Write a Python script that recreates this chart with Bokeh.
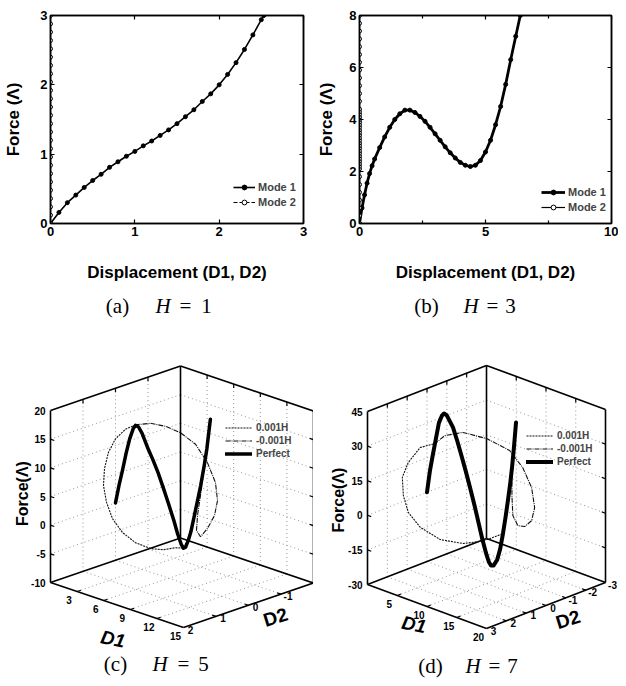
import math
import numpy as np
from bokeh.plotting import figure
from bokeh.models import Legend, LegendItem, LinearAxis, FixedTicker, Range1d
from bokeh.layouts import column, row
from bokeh.embed import file_html
from bokeh.resources import INLINE
from bokeh.core.properties import value

SANS = "Liberation Sans"
SERIF = "Liberation Serif"

# ---------------- (a) H = 1 ----------------
a_mode1_disp = [0.0, 0.1, 0.2, 0.3, 0.4, 0.5, 0.6, 0.7, 0.8, 0.9, 1.0, 1.1, 1.2, 1.3,
                1.4, 1.5, 1.6, 1.7, 1.8, 1.9, 2.0, 2.1, 2.2, 2.3, 2.4, 2.5, 2.53]
a_mode1_force = [0.0, 0.16, 0.30, 0.41, 0.52, 0.62, 0.71, 0.81, 0.89, 0.97, 1.04, 1.12, 1.19, 1.27,
                 1.35, 1.44, 1.54, 1.64, 1.76, 1.87, 2.0, 2.15, 2.32, 2.51, 2.72, 2.94, 3.0]
a_mode2_force = [0.0, 0.12, 0.24, 0.36, 0.48, 0.60, 0.72, 0.84, 0.96, 1.08, 1.20, 1.32, 1.44,
                 1.56, 1.68, 1.80, 1.92, 2.04, 2.16, 2.28, 2.40, 2.52, 2.64, 2.76, 2.88, 3.00]
a_mode2_disp = [0.0] * len(a_mode2_force)
a_xticks = [0, 1, 2, 3]
a_yticks = [0, 1, 2, 3]

# ---------------- (b) H = 3 ----------------
b_mode1_disp = [0.0, 0.1, 0.2, 0.3, 0.4, 0.5, 0.6, 0.8, 1.0, 1.2, 1.4, 1.6, 1.8, 2.0, 2.2, 2.4,
                2.6, 2.8, 3.0, 3.2, 3.4, 3.6, 3.8, 4.0, 4.2, 4.4, 4.6, 4.8, 5.0, 5.2, 5.4, 5.6,
                5.8, 6.0, 6.2, 6.38]
b_mode1_force = [0.0, 0.6, 1.1, 1.55, 1.92, 2.22, 2.48, 2.92, 3.33, 3.70, 4.0, 4.22, 4.36, 4.36,
                 4.27, 4.12, 3.93, 3.70, 3.45, 3.2, 2.95, 2.72, 2.52, 2.35, 2.24, 2.19, 2.24,
                 2.42, 2.75, 3.2, 3.8, 4.5, 5.35, 6.3, 7.2, 8.0]
b_mode2_force = [0.0, 0.3, 0.6, 0.9, 1.2, 1.5, 1.8, 2.1, 2.2, 2.3, 2.4, 2.5, 2.6, 2.7, 2.8, 2.9,
                 3.0, 3.1, 3.2, 3.3, 3.4, 3.5, 3.6, 3.7, 3.8, 3.9, 4.0, 4.1, 4.2, 4.3, 4.4, 4.7,
                 5.0, 5.3, 5.6, 5.9, 6.2, 6.5, 6.8, 7.1, 7.4, 7.7, 8.0]
b_mode2_disp = [0.0] * len(b_mode2_force)
b_xticks = [0, 5, 10]
b_xminor = [2.5, 7.5]
b_yticks = [0, 2, 4, 6, 8]

# ---------------- (c) H = 5 ----------------
c_perf_d1 = [0.0, 0.4, 0.8, 1.2, 1.6, 2.0, 2.25, 2.6, 3.0, 3.6, 4.2, 4.8, 5.4, 6.0, 6.6, 7.0,
             7.4, 7.67, 7.9, 8.2, 8.5, 8.9, 9.3, 9.6, 10.0, 10.3, 10.7]
c_perf_f = [0.0, 3.3, 6.2, 9.3, 12.0, 14.0, 14.7, 14.6, 13.7, 11.6, 9.8, 7.8, 5.4, 2.9, 0.3, -1.7,
            -3.3, -3.9, -3.6, -2.3, -0.6, 2.5, 5.6, 8.0, 11.7, 14.8, 20.2]
c_perf_d2 = [0.0] * len(c_perf_d1)
c_pos_d1 = [0.0, 0.8, 1.35, 1.92, 2.26, 2.23, 2.20, 2.14, 2.24, 2.31, 3.02, 3.88, 4.82, 5.74,
            6.70, 7.25, 7.50, 7.67, 8.46, 9.58, 10.15, 10.7]
c_pos_d2 = [0.0, 0.0, 0.0, 0.0, 0.0, 0.3, 0.6, 0.8, 0.95, 1.0, 1.1, 1.15, 1.1, 0.95, 0.75, 0.5,
            0.2, 0.0, 0.0, 0.0, 0.0, 0.0]
c_pos_f = [0.0, 6.2, 10.4, 13.8, 14.8, 14.6, 13.5, 11.5, 9.0, 6.2, 3.8, 1.5, -0.5, -2.1, -3.0,
           -3.4, -3.5, -3.9, -0.9, 7.7, 13.2, 20.2]
c_neg_d1 = [0.0, 0.8, 1.35, 1.92, 2.26, 2.85, 3.44, 4.22, 5.36, 6.34, 7.06, 7.29, 7.32, 7.26,
            7.39, 7.85, 8.70, 9.40, 10.15, 10.7]
c_neg_d2 = [0.0, 0.0, 0.0, 0.0, 0.0, -0.3, -0.6, -0.85, -1.0, -1.1, -1.15, -1.15, -1.05, -0.85,
            -0.6, -0.35, -0.15, -0.05, 0.0, 0.0]
c_neg_f = [0.0, 6.2, 10.4, 13.8, 14.8, 14.8, 14.0, 12.8, 11.1, 8.2, 5.0, 2.0, -0.4, -2.3, -3.2,
           -1.4, 2.1, 6.1, 13.2, 20.2]
c_d1_ticks = [3, 6, 9, 12, 15]
c_d2_ticks = [2, 1, 0, -1]
c_f_ticks = [-10, -5, 0, 5, 10, 15, 20]

# ---------------- (d) H = 7 ----------------
d_perf_d1 = [0.0, 0.5, 1.0, 1.34, 2.0, 2.5, 2.86, 3.3, 4.37, 5.1, 5.88, 6.5, 7.23, 8.0, 8.57,
             9.3, 10.0, 10.4, 10.76, 11.2, 11.8, 12.3, 12.77, 13.2, 13.6, 14.0, 14.29, 14.6, 14.96]
d_perf_f = [0.0, 9.9, 17.5, 22.4, 32.0, 35.6, 36.9, 36.6, 32.3, 27.0, 20.7, 15.5, 9.0, 1.8, -4.0,
            -11.5, -17.5, -20.3, -21.5, -21.0, -18.0, -12.8, -5.7, 1.8, 9.4, 17.5, 24.4, 33.0, 44.5]
d_perf_d2 = [0.0] * len(d_perf_d1)
d_pos_d1 = [0.0, 0.5, 1.34, 2.18, 2.18, 2.52, 3.36, 4.54, 6.22, 8.57, 10.76, 11.6, 11.6, 12.77,
            13.6, 14.29, 14.96]
d_pos_d2 = [0.0, 0.0, 0.0, 1.0, 1.6, 2.0, 2.2, 2.3, 2.2, 1.9, 1.4, 0.8, 0.3, 0.0, 0.0, 0.0, 0.0]
d_pos_f = [0.0, 9.9, 22.4, 24.8, 20.3, 15.5, 9.1, 3.2, -2.0, -6.0, -7.3, -7.6, -8.0, -5.7, 9.4,
           24.4, 44.5]
d_neg_d1 = [0.0, 0.5, 1.34, 1.34, 2.69, 5.04, 7.56, 9.08, 10.25, 10.76, 10.92, 11.09, 11.26,
            11.76, 12.94, 13.95, 14.29, 14.96]
d_neg_d2 = [0.0, 0.0, 0.0, -0.5, -1.0, -1.5, -1.9, -2.1, -2.2, -2.2, -2.0, -1.6, -1.2, -0.8,
            -0.4, -0.1, 0.0, 0.0]
d_neg_f = [0.0, 9.9, 22.4, 24.2, 25.2, 23.1, 19.0, 12.4, 4.5, -3.7, -8.5, -9.6, -7.7, -1.5, 9.6,
           20.2, 24.4, 44.5]
d_d1_ticks = [5, 10, 15, 20]
d_d2_ticks = [3, 2, 1, 0, -1, -2, -3]
d_f_ticks = [-30, -15, 0, 15, 30, 45]

legend_labels_2d = ["Mode 1", "Mode 2"]
legend_labels_3d = ["0.001H", "-0.001H", "Perfect"]

BOTTOM_H = 388   # bottom-row figures also carry the (a)/(b) captions at their top


def style_axis(ax, ticks, minor=None, labels=True):
    ax.ticker = FixedTicker(ticks=ticks, minor_ticks=minor or [])
    ax.major_tick_in = 4
    ax.major_tick_out = 0
    ax.minor_tick_in = 3 if minor else 0
    ax.minor_tick_out = 0
    ax.axis_line_color = "black"
    ax.axis_line_width = 1.5
    ax.major_tick_line_width = 1.2
    ax.minor_tick_line_width = 1.2
    ax.major_label_text_font = SANS
    ax.major_label_text_font_style = "bold"
    ax.major_label_text_color = "black"
    if labels:
        ax.major_label_standoff = 3
        ax.major_label_text_font_size = "13px"
    else:
        ax.major_label_standoff = 0
        ax.major_label_text_font_size = "2px"
        ax.major_label_overrides = {t: "" for t in ticks}


def add_caption(p, letter, num, xs, cy):
    common = dict(text_font=value(SERIF), text_font_size="21px", text_baseline="middle",
                  text_color="black")
    p.text(x=[xs[0]], y=[cy], text=[letter], text_align="center", **common)
    p.text(x=[xs[1]], y=[cy], text=["H"], text_align="left", text_font_style="italic", **common)
    p.text(x=[xs[2]], y=[cy], text=["="], text_align="center", **common)
    p.text(x=[xs[3]], y=[cy], text=[num], text_align="center", **common)


def make_2d(W, x_end, y_end, xticks, yticks, xminor, m1x, m1y, m2x, m2y, m2dash, borders,
            ylab_standoff, legend_loc, glyph_w, m1_width):
    bl, br, bt, bb = borders
    Hh = 290
    p = figure(width=W, height=Hh, x_range=Range1d(0, x_end), y_range=Range1d(0, y_end),
               output_backend="svg", toolbar_location=None,
               min_border_left=bl, min_border_right=br, min_border_top=bt, min_border_bottom=bb)
    p.grid.visible = False
    p.outline_line_color = "black"
    p.outline_line_width = 1.5
    style_axis(p.xaxis[0], xticks, xminor)
    style_axis(p.yaxis[0], yticks)
    p.xaxis.axis_label = "Displacement (D1, D2)"
    p.yaxis.axis_label = "Force (\u039b)"
    for ax in (p.xaxis[0], p.yaxis[0]):
        ax.axis_label_text_font = SANS
        ax.axis_label_text_font_style = "bold"
        ax.axis_label_text_font_size = "17px"
        ax.axis_label_text_color = "black"
    p.xaxis.axis_label_standoff = 24
    p.yaxis.axis_label_standoff = ylab_standoff
    top = LinearAxis()
    style_axis(top, xticks, xminor, labels=False)
    right = LinearAxis()
    style_axis(right, yticks, labels=False)
    p.add_layout(top, "above")
    p.add_layout(right, "right")

    l1 = p.line(m1x, m1y, line_color="black", line_width=m1_width)
    s1 = p.scatter(m1x, m1y, size=4, marker="circle", fill_color="black", line_color="black")
    l2 = p.line(m2x, m2y, line_color="black", line_width=1.2, line_dash=m2dash)
    s2 = p.scatter(m2x, m2y, size=4, marker="circle", fill_color="white", line_color="black",
                   line_width=1)
    leg = Legend(items=[LegendItem(label=legend_labels_2d[0], renderers=[l1, s1]),
                        LegendItem(label=legend_labels_2d[1], renderers=[l2, s2])],
                 location=legend_loc, glyph_width=glyph_w, glyph_height=12, label_height=12,
                 spacing=3, padding=0, margin=0, border_line_color=None,
                 background_fill_alpha=0, label_text_font=SANS, label_text_font_style="bold",
                 label_text_font_size="11px", label_standoff=3)
    p.add_layout(leg)
    return p


def make_3d(W, d1_max, d2_hi, d2_lo, f_lo, f_hi, d1_ticks, d2_ticks, f_ticks,
            perf, pos, neg, origin, v1, v2, v3, perf_width, legend_loc,
            force_off, d1_off, d2_off, caption, cap_xs, cap_y, top_caption, top_xs, top_y):
    Hh = BOTTOM_H
    p = figure(width=W, height=Hh, x_range=Range1d(0, W), y_range=Range1d(0, Hh),
               output_backend="svg", toolbar_location=None, min_border=0,
               x_axis_location=None, y_axis_location=None, outline_line_color=None)
    p.grid.visible = False

    def P(d1, d2, f):
        d1 = np.asarray(d1, float)
        d2 = np.asarray(d2, float)
        f = np.asarray(f, float)
        a = d1 / d1_max
        b = (d2_hi - d2) / (d2_hi - d2_lo)
        c = (f - f_lo) / (f_hi - f_lo)
        return (origin[0] + a * v1[0] + b * v2[0] + c * v3[0],
                origin[1] + a * v1[1] + b * v2[1] + c * v3[1])

    def segs(pairs):
        x0, y0, x1, y1 = [], [], [], []
        for a, b in pairs:
            xa, ya = P(*a)
            xb, yb = P(*b)
            x0.append(float(xa)); y0.append(float(ya)); x1.append(float(xb)); y1.append(float(yb))
        return x0, y0, x1, y1

    d1_in = [t for t in d1_ticks if 0 < t < d1_max]
    d2_in = [t for t in d2_ticks if d2_lo < t < d2_hi]
    f_in = [t for t in f_ticks if f_lo < t < f_hi]

    # dotted grid on the three back planes
    grid = []
    for t in d1_in:
        grid.append(((t, d2_hi, f_lo), (t, d2_lo, f_lo)))
        grid.append(((t, d2_lo, f_lo), (t, d2_lo, f_hi)))
    for t in d2_in:
        grid.append(((0, t, f_lo), (d1_max, t, f_lo)))
        grid.append(((0, t, f_lo), (0, t, f_hi)))
    for t in f_in:
        grid.append(((0, d2_hi, t), (0, d2_lo, t)))
        grid.append(((0, d2_lo, t), (d1_max, d2_lo, t)))
    gx0, gy0, gx1, gy1 = segs(grid)
    p.segment(gx0, gy0, gx1, gy1, line_color="#8a8a8a", line_width=0.9, line_dash="1 3")

    # box edges
    L0, F0, R0, B0 = (0, d2_hi, f_lo), (d1_max, d2_hi, f_lo), (d1_max, d2_lo, f_lo), (0, d2_lo, f_lo)
    L1, R1, B1 = (0, d2_hi, f_hi), (d1_max, d2_lo, f_hi), (0, d2_lo, f_hi)
    edges = [(L0, L1), (B0, B1), (R0, R1), (L1, B1), (B1, R1), (L0, F0), (F0, R0), (L0, B0), (B0, R0)]
    ex0, ey0, ex1, ey1 = segs(edges)
    p.segment(ex0, ey0, ex1, ey1, line_color="black", line_width=1.6)

    # ticks
    n1 = math.hypot(*v1)
    n2 = math.hypot(*v2)
    u1 = (v1[0] / n1, v1[1] / n1)
    u2 = (v2[0] / n2, v2[1] / n2)
    tl = 4.0
    tx0, ty0, tx1, ty1 = [], [], [], []

    def tick(base, d):
        bx, by = P(*base)
        tx0.append(float(bx)); ty0.append(float(by))
        tx1.append(float(bx) + d[0] * tl); ty1.append(float(by) + d[1] * tl)

    for t in f_in:
        tick((0, d2_hi, t), u1)
        tick((d1_max, d2_lo, t), (-u1[0], -u1[1]))
    for t in d2_in:
        tick((0, t, f_hi), (0, -1))
        tick((d1_max, t, f_lo), (-u1[0], -u1[1]))
    for t in d1_in:
        tick((t, d2_lo, f_hi), (0, -1))
        tick((t, d2_hi, f_lo), u2)
    p.segment(tx0, ty0, tx1, ty1, line_color="black", line_width=1.2)

    # curves
    rp = p.line(*P(*pos), line_color="#111111", line_width=1.1, line_dash="2 1")
    rn = p.line(*P(*neg), line_color="#111111", line_width=1.1, line_dash="5 1 1 1")
    rf = p.line(*P(*perf), line_color="black", line_width=perf_width,
                line_join="round", line_cap="round")

    # tick labels
    fx, fy = P([0] * len(f_ticks), [d2_hi] * len(f_ticks), f_ticks)
    p.text(x=list(fx - 5), y=list(fy), text=[str(t) for t in f_ticks], text_font=value(SANS),
           text_font_style="bold", text_font_size="10px", text_align="right",
           text_baseline="middle", text_color="black")
    ax_, ay_ = P(d1_ticks, [d2_hi] * len(d1_ticks), [f_lo] * len(d1_ticks))
    p.text(x=list(ax_ - 8), y=list(ay_ - 8), text=[str(t) for t in d1_ticks],
           text_font=value(SANS), text_font_style="bold", text_font_size="10px",
           text_align="center", text_baseline="middle", text_color="black")
    bx_, by_ = P([d1_max] * len(d2_ticks), d2_ticks, [f_lo] * len(d2_ticks))
    p.text(x=list(bx_ + 7), y=list(by_ - 2), text=[str(t) for t in d2_ticks],
           text_font=value(SANS), text_font_style="bold", text_font_size="10px",
           text_align="center", text_baseline="middle", text_color="black")

    # axis titles
    mx, my = P(0, d2_hi, (f_lo + f_hi) / 2)
    p.text(x=[float(mx) + force_off[0]], y=[float(my) + force_off[1]], text=["Force(\u039b)"],
           angle=math.pi / 2, text_font=value(SANS), text_font_style="bold",
           text_font_size="16px", text_align="center", text_baseline="middle", text_color="black")
    mx, my = P(d1_max / 2, d2_hi, f_lo)
    p.text(x=[float(mx) + d1_off[0]], y=[float(my) + d1_off[1]], text=["D1"], angle=-0.2,
           text_font=value(SANS), text_font_style="bold italic", text_font_size="19px",
           text_align="center", text_baseline="middle", text_color="black")
    mx, my = P(d1_max, (d2_hi + d2_lo) / 2, f_lo)
    p.text(x=[float(mx) + d2_off[0]], y=[float(my) + d2_off[1]], text=["D2"], angle=0.3,
           text_font=value(SANS), text_font_style="bold", text_font_size="19px",
           text_align="center", text_baseline="middle", text_color="black")

    leg = Legend(items=[LegendItem(label=legend_labels_3d[0], renderers=[rp]),
                        LegendItem(label=legend_labels_3d[1], renderers=[rn]),
                        LegendItem(label=legend_labels_3d[2], renderers=[rf])],
                 location=legend_loc, glyph_width=27, glyph_height=11, label_height=11,
                 spacing=2, padding=0, margin=0, border_line_color=None,
                 background_fill_alpha=0, label_text_font=SANS, label_text_font_style="bold",
                 label_text_font_size="10px", label_standoff=4)
    p.add_layout(leg)
    add_caption(p, caption[0], caption[1], cap_xs, cap_y)
    add_caption(p, top_caption[0], top_caption[1], top_xs, top_y)
    return p


pa = make_2d(313, 3, 3, a_xticks, a_yticks, None, a_mode1_disp, a_mode1_force, a_mode2_disp,
             a_mode2_force, "4 2", (50, 10, 14, 67), 14, (183, 15), 22, 1.6)
pb = make_2d(305, 10, 8, b_xticks, b_yticks, b_xminor, b_mode1_disp, b_mode1_force, b_mode2_disp,
             b_mode2_force, "solid", (46, 7, 15, 66), 10, (182, 10), 24, 2.8)

TOP_CAP_Y = BOTTOM_H - 15
pc = make_3d(313, 15, 2, -2, -10, 20, c_d1_ticks, c_d2_ticks, c_f_ticks,
             (c_perf_d1, c_perf_d2, c_perf_f), (c_pos_d1, c_pos_d2, c_pos_f),
             (c_neg_d1, c_neg_d2, c_neg_f),
             origin=(50, 96), v1=(133, -45), v2=(130, 44.5), v3=(0, 172), perf_width=3.5,
             legend_loc=(225, 219), force_off=(-28, 3), d1_off=(-4, -34), d2_off=(27, -12),
             caption=("(c)", "5"), cap_xs=(115, 152, 183, 203), cap_y=15,
             top_caption=("(a)", "1"), top_xs=(117, 155, 185, 206), top_y=TOP_CAP_Y)
pd = make_3d(305, 20, 3, -3, -30, 45, d_d1_ticks, d_d2_ticks, d_f_ticks,
             (d_perf_d1, d_perf_d2, d_perf_f), (d_pos_d1, d_pos_d2, d_pos_f),
             (d_neg_d1, d_neg_d2, d_neg_f),
             origin=(54, 94), v1=(119, -44), v2=(119, 46), v3=(0, 173), perf_width=4,
             legend_loc=(213, 211), force_off=(-29, -2), d1_off=(-13, -18), d2_off=(22, -14),
             caption=("(d)", "7"), cap_xs=(117, 152, 181, 199), cap_y=13,
             top_caption=("(b)", "3"), top_xs=(113, 150, 179, 197), top_y=TOP_CAP_Y)

layout = column(row(pa, pb), row(pc, pd))
open("out.html", "w").write(file_html(layout, INLINE, title="Force-displacement curves"))
